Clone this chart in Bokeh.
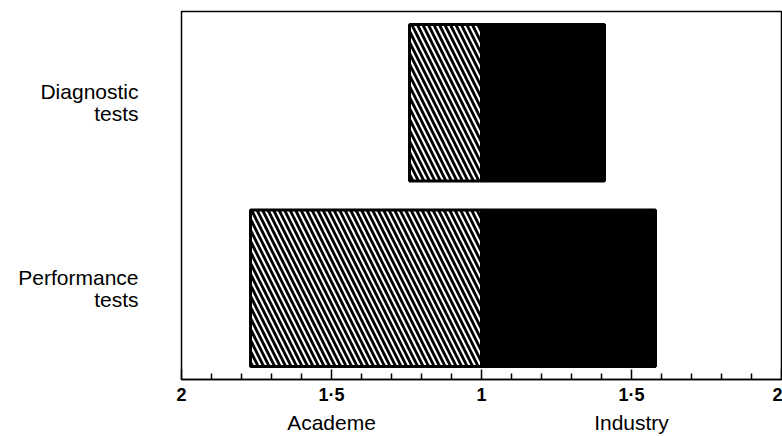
from bokeh.plotting import figure
from bokeh.models import FixedTicker, LinearAxis, Range1d
from bokeh.embed import file_html
from bokeh.resources import INLINE

# ---- data ----
categories = ["Performance\ntests", "Diagnostic\ntests"]
cat_pos = [0, 1]
academe = [1.77, 1.24]    # ratio, plotted to the left of 1
industry = [1.58, 1.41]   # ratio, plotted to the right of 1

x_ticks = [-1.0, -0.5, 0.0, 0.5, 1.0]
x_tick_labels = ["2", "1·5", "1", "1·5", "2"]
minor_ticks = [-0.9, -0.8, -0.7, -0.6, -0.4, -0.3, -0.2, -0.1,
               0.1, 0.2, 0.3, 0.4, 0.6, 0.7, 0.8, 0.9]
side_labels = ["Academe", "Industry"]
side_pos = [-0.5, 0.5]

acad_left = [-(a - 1) for a in academe]
ind_right = [v - 1 for v in industry]

FONT = "Liberation Sans"

p = figure(width=782, height=436,
           x_range=Range1d(-1, 1), y_range=Range1d(-0.492, 1.492),
           output_backend="svg", toolbar_location=None,
           min_border_left=181, min_border_right=1,
           min_border_top=11, min_border_bottom=56)
p.grid.visible = False
p.outline_line_color = "black"
p.outline_line_width = 1.5
p.background_fill_color = "white"
p.border_fill_color = "white"

# bars
p.hbar(y=cat_pos, left=acad_left, right=0, height=0.844,
       fill_color="white", hatch_pattern="\\", hatch_color="black",
       hatch_scale=11, hatch_weight=2.8,
       line_color="black", line_width=3)
p.hbar(y=cat_pos, left=0, right=ind_right, height=0.844,
       fill_color="black", line_color="black", line_width=3)

# x axis (ticks)
xa = p.xaxis[0]
xa.ticker = FixedTicker(ticks=x_ticks, minor_ticks=minor_ticks)
xa.major_label_overrides = {t: l for t, l in zip(x_ticks, x_tick_labels)}
xa.axis_line_color = "black"
xa.axis_line_width = 1.5
xa.major_tick_in = 10
xa.major_tick_out = 0
xa.minor_tick_in = 6
xa.minor_tick_out = 0
xa.major_tick_line_width = 1.5
xa.minor_tick_line_width = 1.5
xa.major_label_standoff = 5
xa.major_label_text_font = FONT
xa.major_label_text_font_size = "18px"
xa.major_label_text_font_style = "bold"
xa.major_label_text_color = "black"

# second axis with side names
ax2 = LinearAxis(ticker=FixedTicker(ticks=side_pos),
                 major_label_overrides={t: l for t, l in zip(side_pos, side_labels)},
                 axis_line_color=None, major_tick_line_color=None,
                 minor_tick_line_color=None,
                 major_tick_in=0, major_tick_out=0,
                 minor_tick_in=0, minor_tick_out=0,
                 major_label_standoff=3,
                 major_label_text_font=FONT,
                 major_label_text_font_size="21px",
                 major_label_text_color="black")
p.add_layout(ax2, "below")

# y axis (category names)
ya = p.yaxis[0]
ya.ticker = FixedTicker(ticks=cat_pos)
ya.major_label_overrides = {t: l for t, l in zip(cat_pos, categories)}
ya.axis_line_color = None
ya.major_tick_line_color = None
ya.minor_tick_line_color = None
ya.major_tick_out = 0
ya.major_tick_in = 0
ya.minor_tick_out = 0
ya.minor_tick_in = 0
ya.major_label_standoff = 43
ya.major_label_text_font = FONT
ya.major_label_text_font_size = "21px"
ya.major_label_text_color = "black"
ya.major_label_text_line_height = 0.95

open("out.html", "w").write(file_html(p, INLINE))
